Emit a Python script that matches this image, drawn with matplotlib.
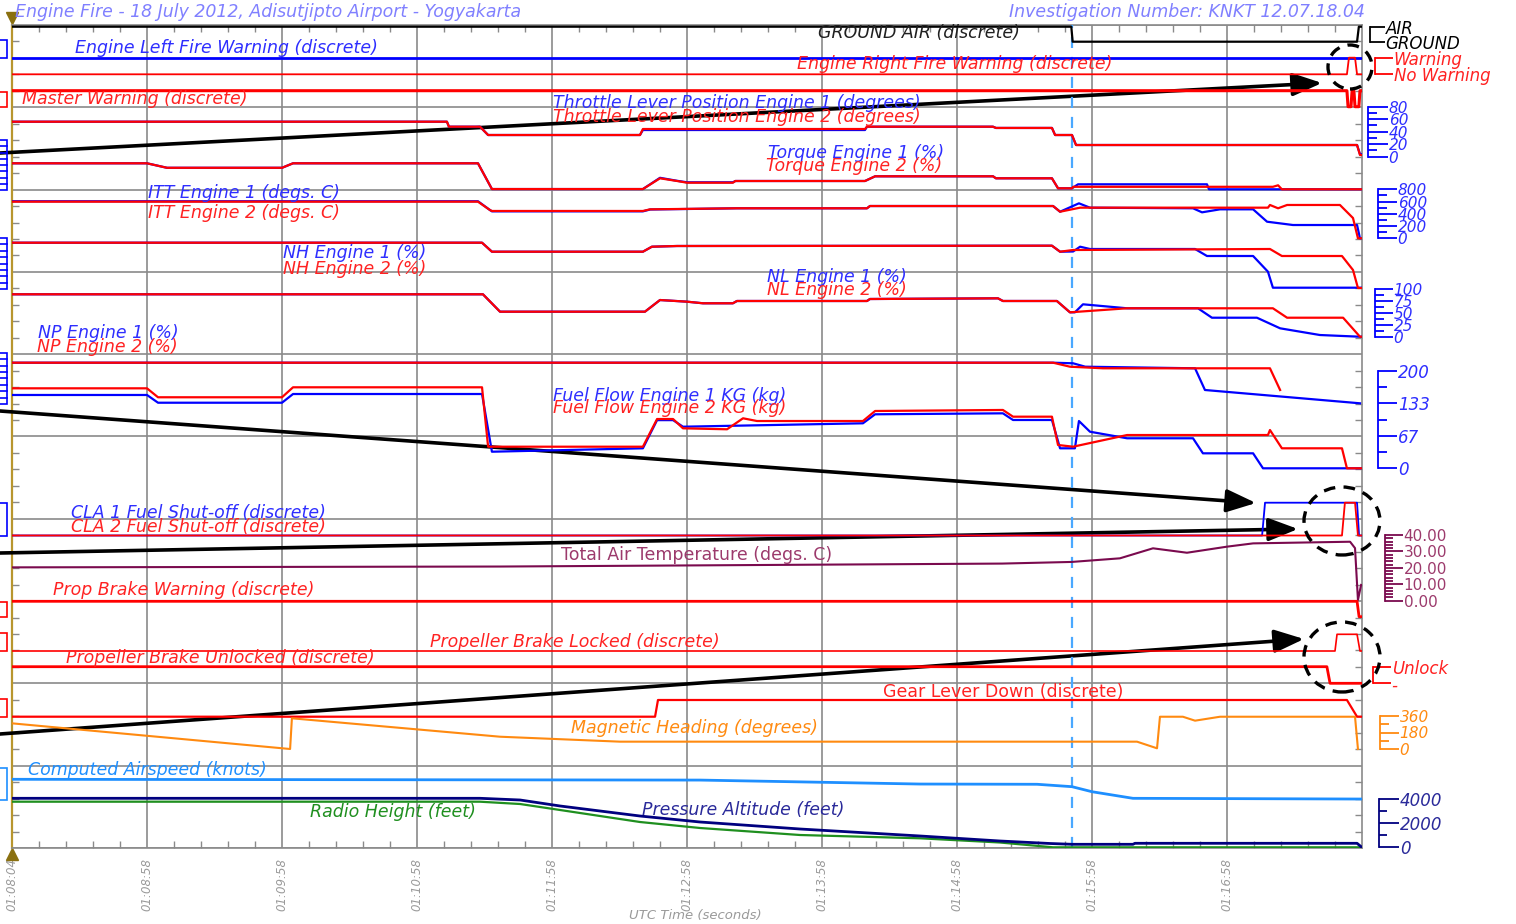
import matplotlib
matplotlib.use('Agg')
import matplotlib.pyplot as plt
from matplotlib.patches import Ellipse, Rectangle
from matplotlib.lines import Line2D

plt.rcParams['font.family'] = ['DejaVu Sans']

# ---------------- data (time in seconds from left edge of record) ----------------
time_ticks = [0, 60, 120, 180, 240, 300, 360, 420, 480, 540]
time_labels = ['01:08:04', '01:08:58', '01:09:58', '01:10:58', '01:11:58',
               '01:12:58', '01:13:58', '01:14:58', '01:15:58', '01:16:58']
touchdown_t = 471.1

gnd_t = [0, 470.8, 471.4, 597.8, 598.6, 600]
gnd_air = [1, 1, 0, 0, 1, 1]

firel_t = [0, 600]
fire_left = [0, 0]

firer_t = [0, 593.3, 594.2, 596.9, 597.8, 600]
fire_right = [0, 0, 1, 1, 0, 0]

mw_t = [0, 593.3, 593.8, 595.1, 595.6, 596.4, 596.9, 598.6, 599.1, 600]
master_warn = [0, 0, 1, 1, 0, 0, 1, 1, 0, 0]

tlp_t = [0, 193.3, 194.2, 208.0, 211.6, 279.1, 280.4, 379.1, 380.0, 436.0, 437.3,
         462.2, 463.6, 471.1, 472.9, 597.8, 599.1, 600]
tlp1 = [56, 56, 48, 48, 34.7, 34.7, 42.7, 42.7, 48, 48, 46, 46, 34.7, 34.7, 18.7, 18.7, 4, 4]
tlp2 = [56, 56, 48, 48, 34.7, 34.7, 44.3, 44.3, 48, 48, 46, 46, 34.7, 34.7, 18.7, 18.7, 2.7, 2.7]

trq1_t = [0, 60.0, 68.9, 120.0, 124.9, 207.1, 213.3, 280.4, 288.0, 295.6, 300.0, 320.4,
          321.5, 379.1, 383.6, 436.0, 437.3, 462.2, 464.9, 471.1, 473.8, 531.1, 532.0, 600]
trq1 = [52, 52, 43, 43, 52, 52, 0.5, 0.5, 23, 17, 14, 14,
        16.6, 16.6, 26, 26, 22, 22, 2, 2, 10, 10, 0, 0]
trq2_t = [0, 60.0, 68.9, 120.0, 124.9, 207.1, 213.3, 280.4, 288.0, 295.6, 300.0, 320.4,
          321.5, 379.1, 383.6, 436.0, 437.3, 462.2, 464.9, 471.1, 471.6, 560.4, 562.7, 564.4, 600]
trq2 = [52, 52, 43, 43, 52, 52, 0.5, 0.5, 22, 16.6, 13.2, 13.2,
        16.6, 16.6, 26, 26, 22, 22, 2, 2, 5, 5, 8, 0, 0]

itt1_t = [0, 207.1, 212.4, 213.3, 280.4, 283.6, 322.2, 380.0, 381.3, 462.7, 465.8, 474.2,
          479.1, 524.9, 528.9, 536.9, 551.6, 557.8, 569.3, 597.8, 599.1, 600]
itt1 = [605, 605, 462, 440, 440, 470, 490, 490, 527, 527, 434, 571,
        500, 490, 424, 473, 473, 271, 217, 217, 0, 0]
itt2_t = [0, 207.1, 212.4, 213.3, 280.4, 283.6, 322.2, 380.0, 381.3, 462.7, 465.8, 474.7,
          558.2, 559.1, 562.7, 566.7, 590.2, 596.0, 598.2, 600]
itt2 = [598, 598, 462, 446, 446, 473, 490, 490, 527, 527, 434, 500,
        500, 544, 490, 544, 544, 331, 0, 0]

nh1_t = [0, 208.9, 213.3, 280.4, 284.4, 295.6, 462.2, 465.8, 471.6, 474.7, 479.1, 525.8,
         531.1, 551.6, 558.2, 560.4, 600]
nh1 = [83.3, 83.3, 74.3, 74.3, 79.3, 80, 80.3, 74.3, 74.5, 79.3, 77, 77,
       70, 70, 54.3, 38.3, 38.3]
nh2_t = [0, 208.9, 213.3, 280.4, 284.4, 295.6, 462.2, 465.8, 471.6, 559.1, 564.4, 591.1,
         596.0, 598.2, 600]
nh2 = [83.3, 83.3, 74.3, 74.3, 79.3, 80, 80.3, 74.3, 76, 77, 70, 70, 56, 38, 38]

nl1_t = [0, 209.3, 216.9, 281.3, 288.0, 300.0, 307.1, 320.4, 322.2, 380.0, 381.3, 438.2,
         440.4, 464.4, 470.2, 472.4, 476.0, 495.6, 527.1, 533.3, 553.3, 563.6, 581.3, 599.1, 600]
nl1 = [88.5, 88.5, 52.7, 52.7, 76.7, 73.3, 70, 70, 74.7, 74.7, 78.8, 80.2,
       74.7, 74.7, 51.4, 51.4, 67.9, 59.7, 59.7, 40.3, 40.3, 18.5, 4.7, 1.2, 1.2]
nl2_t = [0, 209.3, 216.9, 281.3, 288.0, 300.0, 307.1, 320.4, 322.2, 380.0, 381.3, 438.2,
         440.4, 464.4, 470.2, 495.6, 560.4, 566.7, 591.6, 599.1, 600]
nl2 = [88.5, 88.5, 52.7, 52.7, 76.7, 73.3, 70, 70, 74.7, 74.7, 78.8, 80.2,
       74.7, 74.7, 51.4, 59.7, 59.7, 40.3, 40.3, 1.2, 1.2]

np1_t = [0, 462.7, 471.6, 477.0, 525.8, 530.2, 599.1]
np1 = [100, 100, 99.4, 96, 94.4, 72.7, 59.4]
np2_t = [0, 462.7, 470.2, 484.9, 559.1, 563.6]
np2 = [100, 100, 96, 94.4, 94.4, 72.7]

ff1_t = [0, 60.0, 64.9, 120.0, 124.9, 208.9, 213.3, 280.4, 286.7, 293.8, 298.2, 378.2,
         383.6, 440.4, 444.9, 462.2, 465.8, 472.4, 474.2, 479.1, 495.6, 524.9, 529.3,
         551.6, 556.0, 600]
ff1 = [150.7, 150.7, 134.8, 134.8, 152.7, 152.7, 34.1, 41.1, 99, 99, 85.5, 92.5,
       111, 113, 99.3, 99.3, 41.1, 41.1, 97.2, 75.2, 61.7, 61.7, 30.8, 30.8, 0, 0]
ff2_t = [0, 60.0, 64.9, 120.0, 124.9, 208.9, 211.6, 280.4, 286.7, 293.8, 298.2, 317.8,
         324.9, 331.1, 378.2, 383.6, 440.4, 444.9, 462.2, 464.9, 471.6, 495.6, 558.2,
         559.1, 564.4, 591.1, 593.3, 600]
ff2 = [164.4, 164.4, 146, 146, 166.5, 166.5, 44.4, 44.4, 101.3, 101.3, 82.2, 80.2,
       102.8, 97.2, 97.2, 117.8, 119.9, 106.1, 106.1, 47.9, 44.4, 68.4, 68.4,
       78.7, 41.1, 41.1, 0, 0]

cla1_t = [0, 555.6, 556.9, 597.8, 598.7, 600]
cla1 = [0, 0, 1, 1, 0, 0]
cla2_t = [0, 591.1, 592.4, 596.9, 598.2, 600]
cla2 = [0, 0, 1, 1, 0, 0]

tat_t = [0, 217, 440, 471, 492.4, 507.1, 522.2, 540, 551.6, 594.7, 596.9, 598.2, 599.6]
tat = [20.3, 20.8, 22.6, 23.6, 25.8, 31.9, 29.2, 32.9, 34.9, 35.9, 32, 0.4, 9.6]

pbw_t = [0, 597.8, 598.7, 600]
prop_brake_warn = [0, 0, 1, 1]

pbl_t = [0, 588.0, 588.9, 597.8, 599.1, 600]
prop_brake_locked = [0, 0, 1, 1, 0, 0]

pbu_t = [0, 584.4, 585.8, 600]
prop_brake_unlocked = [1, 1, 0, 0]

gld_t = [0, 285.8, 287.1, 593.3, 597.8, 600]
gear_lever_down = [0, 0, 1, 1, 0, 0]

hdg_t = [0, 123.6, 124.4, 216.9, 270.2, 500.0, 508.9, 510.2, 520.4, 525.8, 536.9, 596.9, 598.2]
heading = [280, 0, 335, 134, 80, 80, 7.6, 352, 352, 309, 352, 352, 0]

cas_t = [0, 305.8, 403.6, 455.6, 471.1, 480.0, 498.2, 600]
airspeed = [172.5, 166, 133, 131, 111, 69, 14, 8]

alt_t = [0, 208, 225.8, 243.6, 279.1, 305.8, 350.2, 403.6, 439.1, 461.3, 471.1, 498.2,
         499.1, 597.8, 599.6]
press_alt = [4083, 4083, 3942, 3442, 2608, 2108, 1525, 942, 525, 317, 250, 250, 333, 333, 50]

rh_t = [0, 208, 225.8, 243.6, 279.1, 305.8, 350.2, 403.6, 439.1, 462.7, 600]
radio_ht = [3800, 3800, 3608, 3108, 2108, 1608, 1025, 750, 400, 0, 0]

# ---------------- styling ----------------
BLUE = '#0000ff'
RED = '#ff0000'
BLUE_T = '#2e2eff'
RED_T = '#ff2222'
TAT_C = '#7a0a4e'
TAT_T = '#9c3a6c'
ORANGE = '#ff8a10'
CAS_C = '#1e8fff'
NAVY = '#00007f'
NAVY_T = '#2a2a9a'
GREEN = '#1f8f1f'
GRID = '#8a8a8a'
TITLE = '#8080ff'
OLIVE = '#b8962e'
LBL = 12.5
SCL = 11

W, H = 1516, 924
L, R, T, B = 12, 1362, 25, 848
RECT = [L / W, 1 - B / H, (R - L) / W, (B - T) / H]

fig = plt.figure(figsize=(W / 100, H / 100), dpi=100)
ax = fig.add_axes(RECT)
ax.set_xlim(0, 600)
ax.set_ylim(0, 10)
ax.set_xticks(time_ticks)
ax.set_xticklabels(time_labels, rotation=90, color='#9a9a9a', fontstyle='italic', fontsize=8.5, va='top')
ax.set_xticks([t for t in range(12, 600, 12) if t % 60], minor=True)
ax.set_yticks(range(11))
ax.set_yticklabels([])
ax.set_yticks([i * 0.2 for i in range(51) if i % 5], minor=True)
ax.tick_params(which='major', length=0)
ax.tick_params(axis='x', which='major', pad=7)
ax.tick_params(which='minor', direction='in', length=5, width=1, color=GRID,
               top=True, bottom=True, left=True, right=True)
ax.grid(True, which='major', color=GRID, lw=1.2)
for s in ['top', 'bottom', 'right']:
    ax.spines[s].set_color(GRID)
    ax.spines[s].set_linewidth(1.2)
ax.spines['left'].set_color(OLIVE)
ax.spines['left'].set_linewidth(1.6)
ax.plot([0], [1.008], marker='v', color='#8a7010', ms=8, clip_on=False, transform=ax.transAxes)
ax.plot([0], [-0.007], marker='^', color='#8a7010', ms=8, clip_on=False, transform=ax.transAxes)
ax.axvline(touchdown_t, color='#4aa8ff', lw=1.6, ls=(0, (5, 4)), zorder=5)


def band(v_a, y_a, v_b, y_b):
    """overlay axes whose y scale puts value v_a at pixel row y_a and v_b at y_b"""
    k = (v_b - v_a) / (y_a - y_b)
    a = fig.add_axes(RECT, sharex=ax)
    a.set_ylim(v_a - (B - y_a) * k, v_a + (y_a - T) * k)
    a.patch.set_visible(False)
    for s in a.spines.values():
        s.set_visible(False)
    a.xaxis.set_visible(False)
    a.yaxis.set_visible(False)
    return a


def scale(a, xpix, majors, labels, color, major_px, minors=(), minor_px=0,
          lblcolor=None, style='italic', size=SCL):
    sp = a.spines['right']
    sp.set_visible(True)
    sp.set_position(('axes', (xpix - L) / (R - L)))
    sp.set_bounds(min(majors), max(majors))
    sp.set_color(color)
    sp.set_linewidth(1.3)
    a.yaxis.set_visible(True)
    a.yaxis.set_ticks_position('right')
    a.set_yticks(majors)
    a.set_yticklabels(labels, fontstyle=style, fontsize=size, color=lblcolor or color)
    a.set_yticks(list(minors), minor=True)
    a.tick_params(axis='y', which='major', direction='out', length=major_px * 0.72,
                  width=1.3, color=color, pad=0.5)
    a.tick_params(axis='y', which='minor', direction='out', length=minor_px * 0.72,
                  width=1.3, color=color)


# GROUND / AIR
a = band(0, 41.7, 1, 26.7)
a.plot(gnd_t, gnd_air, color='black', lw=1.6)
scale(a, 1370, [0, 1], ['GROUND', 'AIR'], 'black', 15, size=12)

# fire warnings
a = band(0, 58.3, 1, 41.7)
a.plot(firel_t, fire_left, color=BLUE, lw=2)
a = band(0, 74.3, 1, 57.7)
a.plot(firer_t, fire_right, color=RED, lw=1.3)
scale(a, 1375, [0, 1], ['No Warning', 'Warning'], RED, 18, lblcolor=RED_T, size=12)

# master warning
a = band(0, 90.7, 1, 106.7)
a.plot(mw_t, master_warn, color=RED, lw=2.2)

# throttle
a = band(0, 156.7, 80, 106.7)
a.plot(tlp_t, tlp1, color=BLUE, lw=1.6)
a.plot(tlp_t, tlp2, color=RED, lw=1.6)
scale(a, 1368, [0, 20, 40, 60, 80], ['0', '20', '40', '60', '80'], BLUE, 20,
      [10, 30, 50, 70], 9, lblcolor=BLUE_T)

# torque
a = band(0, 189.3, 100, 139.3)
a.plot(trq1_t, trq1, color=BLUE, lw=1.6)
a.plot(trq2_t, trq2, color=RED, lw=1.6)

# ITT
a = band(0, 238.3, 800, 189.3)
a.plot(itt1_t, itt1, color=BLUE, lw=1.6)
a.plot(itt2_t, itt2, color=RED, lw=1.6)
scale(a, 1378, [0, 200, 400, 600, 800], ['0', '200', '400', '600', '800'], BLUE, 19,
      [100, 300, 500, 700], 9, lblcolor=BLUE_T)

# NH
a = band(0, 326, 100, 226)
a.plot(nh1_t, nh1, color=BLUE, lw=1.6)
a.plot(nh2_t, nh2, color=RED, lw=1.6)

# NL
a = band(0, 337.3, 100, 288.7)
a.plot(nl1_t, nl1, color=BLUE, lw=1.6)
a.plot(nl2_t, nl2, color=RED, lw=1.6)
scale(a, 1375, [0, 25, 50, 75, 100], ['0', '25', '50', '75', '100'], BLUE, 18,
      [12.5, 37.5, 62.5, 87.5], 9, lblcolor=BLUE_T)

# NP
a = band(0, 462.7, 100, 362.7)
a.plot(np1_t, np1, color=BLUE, lw=1.6)
a.plot(np2_t, np2, color=RED, lw=1.6)

# fuel flow
a = band(0, 468.3, 200, 371)
a.plot(ff1_t, ff1, color=BLUE, lw=1.6)
a.plot(ff2_t, ff2, color=RED, lw=1.6)
scale(a, 1378, [0, 200 / 3, 400 / 3, 200], ['0', '67', '133', '200'], BLUE, 19,
      [100 / 3, 100, 500 / 3], 9, lblcolor=BLUE_T, size=12)

# CLA fuel shut-off
a = band(0, 535.5, 1, 502.7)
a.plot(cla1_t, cla1, color=BLUE, lw=1.3)
a.plot(cla2_t, cla2, color=RED, lw=1.3)

# TAT
a = band(0, 600.7, 40, 535)
a.plot(tat_t, tat, color=TAT_C, lw=1.5)
scale(a, 1385, [0, 10, 20, 30, 40], ['0.00', '10.00', '20.00', '30.00', '40.00'], TAT_C, 18,
      [v for v in range(2, 40, 2) if v % 10], 8, lblcolor=TAT_T, style='normal', size=11)

# prop brake warning
a = band(0, 601.3, 1, 616.7)
a.plot(pbw_t, prop_brake_warn, color=RED, lw=2)

# prop brake locked
a = band(0, 651, 1, 634.3)
a.plot(pbl_t, prop_brake_locked, color=RED, lw=1.2)

# prop brake unlocked
a = band(0, 683.3, 1, 666.7)
a.plot(pbu_t, prop_brake_unlocked, color=RED, lw=2)
scale(a, 1373, [0, 1], ['-', 'Unlock'], RED, 18, lblcolor=RED_T, size=12)

# gear lever
a = band(0, 716.7, 1, 700)
a.plot(gld_t, gear_lever_down, color=RED, lw=1.6)

# magnetic heading
a = band(0, 749, 360, 716)
a.plot(hdg_t, heading, color=ORANGE, lw=1.5)
scale(a, 1380, [0, 180, 360], ['0', '180', '360'], ORANGE, 19, [90, 270], 9)

# airspeed
a = band(0, 800, 250, 770)
a.plot(cas_t, airspeed, color=CAS_C, lw=2)

# altitude / radio height
a = band(0, 847.3, 4000, 799.3)
a.plot(rh_t, radio_ht, color=GREEN, lw=1.6)
a.plot(alt_t, press_alt, color=NAVY, lw=2)
scale(a, 1379, [0, 2000, 4000], ['0', '2000', '4000'], NAVY, 20, [1000, 3000], 8,
      lblcolor=NAVY_T, size=12)


# ---------------- texts ----------------
def ptext(x, y, s, color, italic=True, size=LBL, ha='left'):
    fig.text(x / W, 1 - y / H, s, color=color, fontsize=size, ha=ha, va='center',
             fontstyle='italic' if italic else 'normal')


ptext(15, 12, 'Engine Fire - 18 July 2012, Adisutjipto Airport - Yogyakarta', TITLE, size=12.5)
ptext(1365, 12, 'Investigation Number: KNKT 12.07.18.04', TITLE, size=12.5, ha='right')
ptext(695, 916, 'UTC Time (seconds)', '#9a9a9a', size=9.5, ha='center')

ptext(818, 33, 'GROUND AIR (discrete)', '#202020')
ptext(75, 48, 'Engine Left Fire Warning (discrete)', BLUE_T)
ptext(797, 64, 'Engine Right Fire Warning (discrete)', RED_T)
ptext(22, 99, 'Master Warning (discrete)', RED_T)
ptext(553, 103, 'Throttle Lever Position Engine 1 (degrees)', BLUE_T)
ptext(553, 117, 'Throttle Lever Position Engine 2 (degrees)', RED_T)
ptext(768, 153, 'Torque Engine 1 (%)', BLUE_T)
ptext(766, 166, 'Torque Engine 2 (%)', RED_T)
ptext(148, 193, 'ITT Engine 1 (degs. C)', BLUE_T)
ptext(148, 213, 'ITT Engine 2 (degs. C)', RED_T)
ptext(283, 253, 'NH Engine 1 (%)', BLUE_T)
ptext(283, 269, 'NH Engine 2 (%)', RED_T)
ptext(767, 277, 'NL Engine 1 (%)', BLUE_T)
ptext(767, 290, 'NL Engine 2 (%)', RED_T)
ptext(38, 333, 'NP Engine 1 (%)', BLUE_T)
ptext(37, 347, 'NP Engine 2 (%)', RED_T)
ptext(553, 396, 'Fuel Flow Engine 1 KG (kg)', BLUE_T)
ptext(553, 408, 'Fuel Flow Engine 2 KG (kg)', RED_T)
ptext(71, 513, 'CLA 1 Fuel Shut-off (discrete)', BLUE_T)
ptext(71, 527, 'CLA 2 Fuel Shut-off (discrete)', RED_T)
ptext(561, 555, 'Total Air Temperature (degs. C)', TAT_T, italic=False)
ptext(53, 590, 'Prop Brake Warning (discrete)', RED_T)
ptext(430, 642, 'Propeller Brake Locked (discrete)', RED_T)
ptext(66, 658, 'Propeller Brake Unlocked (discrete)', RED_T)
ptext(883, 692, 'Gear Lever Down (discrete)', RED_T, italic=False)
ptext(571, 728, 'Magnetic Heading (degrees)', ORANGE)
ptext(28, 770, 'Computed Airspeed (knots)', CAS_C)
ptext(642, 810, 'Pressure Altitude (feet)', NAVY_T)
ptext(310, 812, 'Radio Height (feet)', GREEN)


# ---------------- cut-off left scale boxes ----------------
def fx(x):
    return x / W


def fy(y):
    return 1 - y / H


def lbox(y0, y1, color, ticks=0):
    fig.add_artist(Rectangle((fx(-10), fy(y1)), fx(17), (y1 - y0) / H, fill=False,
                             edgecolor=color, lw=1.2, transform=fig.transFigure))
    for i in range(1, ticks):
        yy = y0 + (y1 - y0) * i / ticks
        fig.add_artist(Line2D([fx(0), fx(7)], [fy(yy), fy(yy)], color=color, lw=1.2,
                              transform=fig.transFigure))


lbox(40, 58, BLUE)
lbox(92, 107, RED)
lbox(140, 190, BLUE, 8)
lbox(238, 289, BLUE, 8)
lbox(353, 404, BLUE, 8)
lbox(503, 536, BLUE)
lbox(602, 617, RED)
lbox(633, 651, RED)
lbox(699, 717, RED)
lbox(768, 800, CAS_C)

# ---------------- investigator annotations ----------------
arrows = [((0, 153), (1322, 83)), ((0, 411), (1256, 503)),
          ((0, 553), (1298, 529)), ((0, 734), (1304, 639))]
for (x0, y0), (x1, y1) in arrows:
    ax.annotate('', xy=(fx(x1), fy(y1)), xytext=(fx(x0), fy(y0)),
                xycoords='figure fraction', textcoords='figure fraction',
                arrowprops=dict(arrowstyle='-|>,head_length=0.9,head_width=0.35', lw=2.6,
                                color='black', shrinkA=0, shrinkB=0, mutation_scale=20),
                annotation_clip=False)

for cx, cy, rx, ry in [(1350, 67, 22, 22), (1342, 521, 38, 34), (1342, 657, 38, 35)]:
    fig.add_artist(Ellipse((fx(cx), fy(cy)), 2 * rx / W, 2 * ry / H, fill=False,
                           edgecolor='black', lw=2.4, ls=(0, (3.5, 2.5)),
                           transform=fig.transFigure))

fig.savefig('out.png', dpi=100)
